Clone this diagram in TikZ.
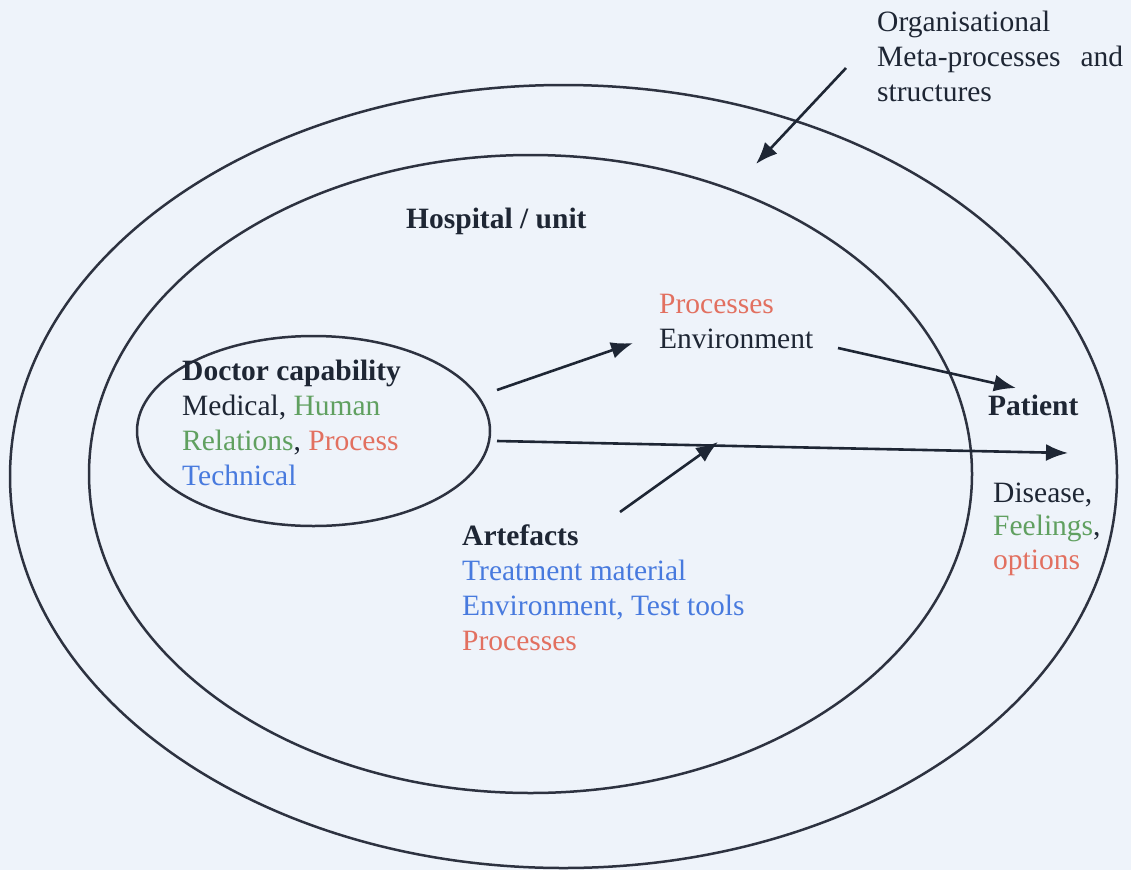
\documentclass[tikz,border=0pt]{standalone}
\usepackage{fontspec}
\setmainfont{Liberation Serif}
\usetikzlibrary{arrows.meta,shapes.geometric}
\definecolor{paper}{RGB}{238,243,250}
\definecolor{ink}{RGB}{30,38,52}
\definecolor{linegray}{RGB}{45,50,64}
\definecolor{humgreen}{RGB}{96,160,96}
\definecolor{procred}{RGB}{226,112,96}
\definecolor{techblue}{RGB}{72,122,222}

\begin{document}
\begin{tikzpicture}[x=1pt,y=-1pt]
\tikzset{ring/.style={draw=linegray, line width=2.5pt, ellipse, inner sep=0pt},
  lbl/.style={anchor=north west, inner sep=0pt, align=left, text=ink, font=\fontsize{29.5}{35}\selectfont},
  boldlbl/.style={lbl, font=\fontsize{29.5}{35}\selectfont\bfseries},
  pointer/.style={draw=ink, line width=2.6pt, -{Latex[length=22pt,width=17pt]}}}
\useasboundingbox[fill=paper] (0,0) rectangle (1131,870);
\node[ring, minimum width=1107pt, minimum height=783pt] (outer) at (563.5,476.5) {};
\node[ring, minimum width=883pt, minimum height=638pt] (hospital) at (530.5,474) {};
\node[ring, minimum width=353pt, minimum height=190pt] (doctor) at (313.5,431) {};
\node[lbl, text width=246pt] (orgnote) at (877,6.5) {\strut Organisational\\Meta-processes\hfill and\\structures};
\node[boldlbl] (hosplabel) at (406,203.5) {\strut Hospital / unit};
\node[lbl] (unitinfo) at (659,288.5) {\strut\textcolor{procred}{Processes}\\Environment};
\node[lbl] (capability) at (182,355.5) {\strut\textbf{Doctor capability}\\Medical, \textcolor{humgreen}{Human}\\\textcolor{humgreen}{Relations}, \textcolor{procred}{Process}\\\textcolor{techblue}{Technical}};
\node[boldlbl] (patient) at (988,390.5) {\strut Patient};
\node[lbl, font=\fontsize{29.5}{33.5}\selectfont] (condition) at (993,478.5) {\strut Disease,\\\textcolor{humgreen}{Feelings},\\\textcolor{procred}{options}};
\node[lbl] (artefacts) at (462,520.5) {\strut\textbf{Artefacts}\\\textcolor{techblue}{Treatment material}\\\textcolor{techblue}{Environment, Test tools}\\\textcolor{procred}{Processes}};
\coordinate (orgtail) at (846,68);
\coordinate (orgtip) at (756,164);
\coordinate (capupper) at (497,390);
\coordinate (unittip) at (633,343);
\coordinate (envtail) at (838,348);
\coordinate (patienttip) at (1016,388);
\coordinate (caplower) at (497,441);
\coordinate (farright) at (1068,453);
\coordinate (arttail) at (620,512);
\coordinate (arttip) at (718,442);
\draw[pointer] (orgtail) -- (orgtip);
\draw[pointer] (capupper) -- (unittip);
\draw[pointer] (envtail) -- (patienttip);
\draw[pointer] (caplower) -- (farright);
\draw[pointer] (arttail) -- (arttip);
\end{tikzpicture}
\end{document}
